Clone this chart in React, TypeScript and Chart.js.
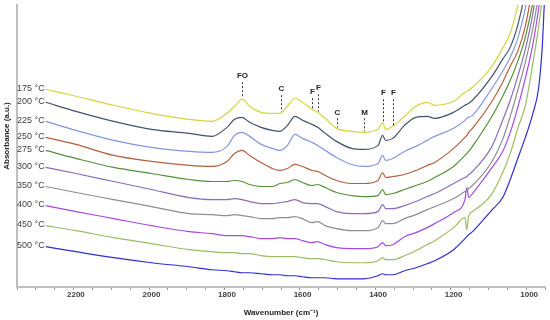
import React, { useEffect, useRef } from 'react';
import { Chart, registerables } from 'chart.js';

Chart.register(...registerables);

// Wavenumber sample points (cm-1), shared by all spectra
const wavenumbers = [2280, 2200, 2100, 2000, 1900, 1840, 1800, 1780, 1760, 1740, 1710, 1680, 1660, 1640, 1620, 1600, 1575, 1560, 1540, 1510, 1470, 1437, 1400, 1388, 1380, 1361, 1330, 1300, 1270, 1250, 1200, 1170, 1165, 1160, 1150, 1100, 1070, 1050, 1030, 1010, 990, 975, 965, 960];

const temperatures = ['175 °C', '200 °C', '225 °C', '250 °C', '275 °C', '300 °C', '350 °C', '400 °C', '450 °C', '500 °C'];

// Absorbance (a.u., offset spectra)
const abs175 = [1.97, 1.90, 1.81, 1.73, 1.67, 1.65, 1.73, 1.80, 1.87, 1.80, 1.74, 1.73, 1.73, 1.80, 1.88, 1.84, 1.77, 1.74, 1.68, 1.58, 1.55, 1.54, 1.57, 1.64, 1.57, 1.60, 1.70, 1.80, 1.84, 1.81, 1.85, 1.94, 1.95, 1.96, 1.99, 2.19, 2.38, 2.53, 2.80, 3.11, 3.46, 3.76, 3.96, 4.36];
const abs200 = [1.84, 1.75, 1.65, 1.57, 1.53, 1.50, 1.59, 1.67, 1.69, 1.64, 1.59, 1.56, 1.55, 1.61, 1.70, 1.66, 1.62, 1.59, 1.53, 1.45, 1.38, 1.37, 1.41, 1.51, 1.46, 1.48, 1.61, 1.69, 1.70, 1.68, 1.74, 1.81, 1.82, 1.83, 1.86, 2.09, 2.27, 2.39, 2.61, 2.94, 3.31, 3.61, 3.86, 4.01];
const abs225 = [1.65, 1.56, 1.46, 1.39, 1.35, 1.34, 1.40, 1.51, 1.54, 1.50, 1.42, 1.38, 1.36, 1.41, 1.52, 1.48, 1.44, 1.41, 1.36, 1.29, 1.22, 1.20, 1.23, 1.31, 1.26, 1.28, 1.35, 1.40, 1.46, 1.50, 1.58, 1.66, 1.68, 1.69, 1.71, 1.97, 2.15, 2.29, 2.48, 2.78, 3.16, 3.46, 3.71, 3.86];
const abs250 = [1.49, 1.42, 1.31, 1.25, 1.21, 1.20, 1.25, 1.33, 1.36, 1.31, 1.24, 1.18, 1.16, 1.18, 1.22, 1.20, 1.16, 1.15, 1.11, 1.06, 1.03, 1.03, 1.06, 1.14, 1.09, 1.10, 1.12, 1.16, 1.21, 1.24, 1.38, 1.49, 1.51, 1.54, 1.58, 1.84, 2.04, 2.20, 2.35, 2.60, 3.01, 3.36, 3.66, 3.81];
const abs275 = [1.36, 1.28, 1.19, 1.13, 1.07, 1.05, 1.05, 1.06, 1.05, 1.02, 1.00, 1.00, 1.03, 1.04, 1.07, 1.04, 1.01, 1.02, 0.99, 0.94, 0.91, 0.90, 0.91, 0.97, 0.92, 0.93, 0.97, 1.01, 1.05, 1.09, 1.20, 1.31, 1.33, 1.35, 1.40, 1.69, 1.90, 2.06, 2.25, 2.49, 2.84, 3.21, 3.46, 3.61];
const abs300 = [1.19, 1.13, 1.05, 0.97, 0.89, 0.87, 0.87, 0.88, 0.87, 0.85, 0.83, 0.83, 0.84, 0.85, 0.87, 0.84, 0.83, 0.83, 0.80, 0.75, 0.73, 0.73, 0.75, 0.82, 0.78, 0.78, 0.81, 0.85, 0.90, 0.93, 1.03, 1.09, 1.10, 1.12, 1.15, 1.39, 1.66, 1.86, 2.10, 2.37, 2.73, 3.11, 3.36, 3.51];
const abs350 = [1.00, 0.94, 0.87, 0.80, 0.73, 0.72, 0.71, 0.72, 0.71, 0.70, 0.68, 0.68, 0.69, 0.69, 0.70, 0.68, 0.64, 0.65, 0.61, 0.58, 0.56, 0.56, 0.59, 0.66, 0.63, 0.63, 0.68, 0.72, 0.77, 0.80, 0.88, 0.95, 0.96, 0.98, 1.01, 1.24, 1.47, 1.70, 1.96, 2.24, 2.58, 2.91, 3.16, 3.31];
const abs400 = [0.81, 0.75, 0.68, 0.61, 0.55, 0.53, 0.51, 0.51, 0.51, 0.50, 0.48, 0.48, 0.49, 0.48, 0.48, 0.46, 0.44, 0.45, 0.42, 0.39, 0.38, 0.38, 0.40, 0.44, 0.41, 0.42, 0.50, 0.54, 0.59, 0.63, 0.74, 0.87, 0.99, 0.89, 0.93, 1.18, 1.35, 1.54, 1.79, 2.08, 2.42, 2.77, 3.06, 3.21];
const abs450 = [0.61, 0.56, 0.49, 0.43, 0.37, 0.35, 0.34, 0.34, 0.33, 0.33, 0.31, 0.30, 0.30, 0.30, 0.30, 0.29, 0.28, 0.28, 0.27, 0.25, 0.24, 0.24, 0.26, 0.29, 0.27, 0.27, 0.31, 0.36, 0.42, 0.46, 0.59, 0.69, 0.57, 0.71, 0.75, 0.92, 1.14, 1.33, 1.58, 1.81, 2.23, 2.59, 2.88, 3.01];
const abs500 = [0.40, 0.35, 0.29, 0.24, 0.20, 0.17, 0.16, 0.15, 0.14, 0.14, 0.13, 0.12, 0.12, 0.11, 0.11, 0.10, 0.09, 0.09, 0.09, 0.08, 0.08, 0.08, 0.11, 0.13, 0.12, 0.12, 0.16, 0.19, 0.23, 0.26, 0.37, 0.48, 0.50, 0.52, 0.55, 0.76, 0.89, 1.07, 1.28, 1.49, 1.73, 1.98, 2.41, 2.81];

// Band assignments
const markerLabels = ['FO', 'C', 'F', 'F', 'C', 'M', 'F', 'F'];
const markerWavenumbers = [1760, 1658, 1575, 1559, 1509, 1437, 1388, 1361];
const markerLabelLevels = [2.10, 1.97, 1.94, 1.98, 1.74, 1.74, 1.93, 1.93];

const xTickLabels = [2200, 2000, 1800, 1600, 1400, 1200, 1000];

const colors = ['#d6d43c', '#44546a', '#8497d8', '#b35f3c', '#55903a', '#8a6fb8', '#8e8e8e', '#a44be2', '#9cbb62', '#2f2fd2'];

const FONT = '"Liberation Sans", Arial, sans-serif';

function interp(series: number[], wn: number): number {
  for (let j = 0; j < wavenumbers.length - 1; j++) {
    const a = wavenumbers[j];
    const b = wavenumbers[j + 1];
    if (wn <= a && wn >= b) {
      const t = (a - wn) / (a - b);
      return series[j] + t * (series[j + 1] - series[j]);
    }
  }
  return series[series.length - 1];
}

export default function App() {
  const ref = useRef<HTMLCanvasElement>(null);

  useEffect(() => {
    if (!ref.current) return;
    const series = [abs175, abs200, abs225, abs250, abs275, abs300, abs350, abs400, abs450, abs500];
    const datasets = series.map((s, i) => ({
      label: temperatures[i],
      data: s.map((y, j) => ({ x: wavenumbers[j], y })),
      borderColor: colors[i],
      backgroundColor: colors[i],
      borderWidth: 1.2,
      pointRadius: 0,
      cubicInterpolationMode: 'monotone' as const,
      fill: false,
    }));

    const annot = {
      id: 'annot',
      afterDraw(chart: any) {
        const ctx = chart.ctx;
        const xs = chart.scales.x;
        const ys = chart.scales.y;
        const area = chart.chartArea;
        ctx.save();
        // temperature labels at the start of each spectrum
        ctx.font = `9px ${FONT}`;
        ctx.fillStyle = '#404040';
        ctx.textAlign = 'right';
        ctx.textBaseline = 'middle';
        series.forEach((s, i) => {
          const px = xs.getPixelForValue(wavenumbers[0]);
          const py = ys.getPixelForValue(s[0]);
          ctx.fillText(temperatures[i], px - 1, py - 1);
        });
        // x tick labels
        ctx.font = `bold 8px ${FONT}`;
        ctx.textAlign = 'center';
        ctx.fillStyle = '#404040';
        xTickLabels.forEach((v) => {
          ctx.fillText(String(v), xs.getPixelForValue(v), area.bottom + 8);
        });
        // band markers
        ctx.fillStyle = '#222';
        ctx.strokeStyle = '#333';
        ctx.lineWidth = 1;
        ctx.setLineDash([2, 2]);
        markerLabels.forEach((lab, i) => {
          const px = Math.round(xs.getPixelForValue(markerWavenumbers[i])) + 0.5;
          const ly = ys.getPixelForValue(markerLabelLevels[i]);
          const cy = ys.getPixelForValue(interp(abs175, markerWavenumbers[i]));
          ctx.fillText(lab, px, ly);
          ctx.beginPath();
          ctx.moveTo(px, ly + 6);
          ctx.lineTo(px, cy - 1);
          ctx.stroke();
        });
        ctx.setLineDash([]);
        // y axis title
        ctx.translate(7, 136);
        ctx.rotate(-Math.PI / 2);
        ctx.font = `bold 8px ${FONT}`;
        ctx.fillStyle = '#222';
        ctx.textAlign = 'center';
        ctx.fillText('Absorbance (a.u.)', 0, 0);
        ctx.restore();
      },
    };

    const chart = new Chart(ref.current, {
      type: 'line',
      data: { datasets },
      plugins: [annot],
      options: {
        responsive: false,
        animation: false,
        layout: { padding: { left: 17, right: 5, top: 5, bottom: 0 } },
        plugins: { legend: { display: false }, tooltip: { enabled: false } },
        scales: {
          x: {
            type: 'linear',
            reverse: true,
            min: 958,
            max: 2356,
            ticks: {
              stepSize: 50,
              autoSkip: false,
              includeBounds: false,
              maxRotation: 0,
              padding: 0,
              color: 'rgba(0,0,0,0)',
              font: { size: 8, weight: 'bold', family: FONT },
              callback: () => ' ',
            },
            grid: { display: true, drawOnChartArea: false, drawTicks: true, tickLength: 3, color: '#8a8a8a' },
            border: { display: true, color: '#bfbfbf', width: 2 },
            title: {
              display: true,
              text: 'Wavenumber (cm⁻¹)',
              color: '#222',
              font: { size: 8, weight: 'bold', family: FONT },
              padding: { top: 9, bottom: 2 },
            },
          },
          y: {
            min: 0,
            max: 2.81,
            ticks: { display: false },
            grid: { display: false, drawTicks: false },
            border: { display: true, color: '#bfbfbf', width: 2 },
          },
        },
      },
    } as any);
    return () => chart.destroy();
  }, []);

  return (
    <div style={{ position: 'absolute', left: 0, top: 0, width: 550, height: 320, background: '#fff' }}>
      <canvas ref={ref} width={550} height={320} />
    </div>
  );
}
